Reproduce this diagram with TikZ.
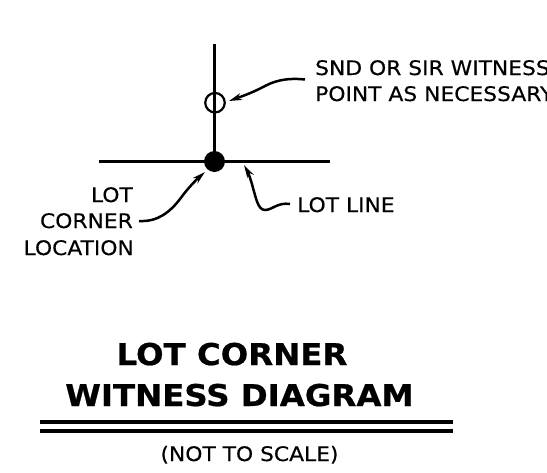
\documentclass[tikz,border=0pt]{standalone}
\usepackage{fontspec}
\setmainfont{DejaVu Sans}[FakeStretch=1.09,FakeBold=0.35,BoldFeatures={FakeStretch=1.08,FakeBold=0.7}]
\usetikzlibrary{arrows.meta}
\tikzset{
  lbl/.style={inner sep=0pt,font=\fontsize{20}{24}\selectfont},
  ttl/.style={inner sep=0pt,font=\fontsize{30}{36}\bfseries\selectfont},
  ln/.style={line width=2.4pt,black},
  leader/.style={line width=2.5pt,black,-{Stealth[length=13pt,width=7pt]}},
}
\begin{document}
\begin{tikzpicture}[x=1pt,y=-1pt]
\useasboundingbox (0,0) rectangle (547,472);
\fill[white] (0,0) rectangle (547,472);
\coordinate (vt) at (214.5,44);
\coordinate (hl) at (99,161.5);
\coordinate (hr) at (330,161.5);
\node[circle,draw,line width=2.2pt,minimum size=19.5pt,inner sep=0pt] (wit) at (215,102.7) {};
\node[circle,fill=black,minimum size=21pt,inner sep=0pt] (cor) at (214.5,161.5) {};
\draw[ln] (vt) -- (cor.center);
\draw[ln] (hl) -- (hr);
\node[lbl,anchor=base west] (snd) at (315,75) {SND OR SIR WITNESS};
\node[lbl,anchor=base west] (pt) at (315,101) {POINT AS NECESSARY};
\node[lbl,anchor=base east] (l1) at (133,202) {LOT};
\node[lbl,anchor=base east] (l2) at (133,228) {CORNER};
\node[lbl,anchor=base east] (l3) at (134,255) {LOCATION};
\node[lbl,anchor=base west] (ll) at (297,212) {LOT LINE};
\coordinate (a1) at (305,79.5);
\coordinate (a2) at (139,221);
\coordinate (a3) at (290,204);
\draw[leader] (a1) .. controls (292,78) and (278,79) .. (265,86) .. controls (252,93) and (240,97) .. (229,101);
\draw[leader] (a2) .. controls (158,222) and (170,212) .. (180,199) .. controls (188,188) and (196,180) .. (205,172);
\draw[leader] (a3) .. controls (278,202) and (272,210) .. (265,210) .. controls (258,210) and (256,198) .. (253,188) .. controls (251,180) and (248,172) .. (244,165);
\node[ttl,anchor=base] (t1) at (232,365) {LOT CORNER};
\node[ttl,anchor=base] (t2) at (239.5,406) {WITNESS DIAGRAM};
\coordinate (r1l) at (40,422); \coordinate (r1r) at (453,422);
\coordinate (r2l) at (40,431); \coordinate (r2r) at (453,431);
\draw[line width=3.5pt] (r1l) -- (r1r);
\draw[line width=3.5pt] (r2l) -- (r2r);
\node[lbl,anchor=base] (nts) at (249.5,461) {(NOT TO SCALE)};
\end{tikzpicture}
\end{document}
